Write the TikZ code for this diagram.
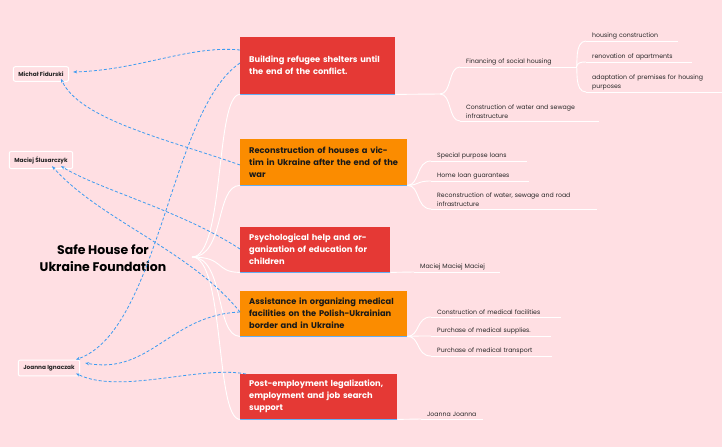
\documentclass[tikz,border=0pt]{standalone}
\usepackage{fontspec}
\setmainfont{Poppins}
\usetikzlibrary{arrows.meta}
\definecolor{bg}{HTML}{FFDFE3}
\definecolor{tred}{HTML}{E53935}
\definecolor{torange}{HTML}{FB8C00}
\definecolor{rel}{HTML}{3D9BF0}
\begin{document}
\begin{tikzpicture}[x=1pt,y=-1pt,
  topic/.style={anchor=north west,inner xsep=9pt,inner ysep=0pt,align=left,font=\fontsize{8.3}{12}\selectfont\bfseries},
  sub/.style={anchor=south west,inner xsep=0pt,inner ysep=2pt,align=left,font=\fontsize{6.2}{9}\selectfont,text=black!85},
  person/.style={draw=white,line width=1pt,rounded corners=2pt,fill=bg,font=\fontsize{5.8}{7}\selectfont\bfseries,text=black!85,inner sep=5pt},
  br/.style={draw=white,line width=0.9pt},
  rl/.style={draw=rel,line width=0.8pt,dash pattern=on 3pt off 2pt,-{Stealth[length=4pt,width=3pt]}}]
\fill[bg] (0,0) rectangle (722,447);
\useasboundingbox (0,0) rectangle (722,447);
% root
\node[font=\fontsize{12.5}{17}\selectfont\bfseries,align=center] (root) at (103,258) {Safe House for\\Ukraine Foundation};
\coordinate (rc) at (192,257);
% topics
\node[topic,fill=tred,text=white,minimum width=155pt,minimum height=57pt,text width=137pt] (t1) at (240,37) {Building refugee shelters until the end of the conflict.};
\node[topic,fill=torange,text=black!90,minimum width=167pt,minimum height=46pt,text width=149pt] (t2) at (240,139) {Reconstruction of houses a victim in Ukraine after the end of the war};
\node[topic,fill=tred,text=white,minimum width=150pt,minimum height=45pt,text width=132pt] (t3) at (240,227) {Psychological help and organization of education for children};
\node[topic,fill=torange,text=black!90,minimum width=167pt,minimum height=45pt,text width=149pt] (t4) at (240,291) {Assistance in organizing medical facilities on the Polish-Ukrainian border and in Ukraine};
\node[topic,fill=tred,text=white,minimum width=157pt,minimum height=45pt,text width=139pt] (t5) at (240,374) {Post-employment legalization, employment and job search support};
\foreach \t in {t1,t2,t3,t4,t5}{\draw[rel!80,line width=1pt] (\t.south west) -- (\t.south east);}
% root branches
\foreach \t in {t1,t2,t3,t4,t5}{\draw[br] (rc) .. controls (225,257) and (215,0|-\t.south west) .. (\t.south west);}
% subtopics
\node[sub,text width=110pt] (s1) at (466,67) {Financing of social housing};
\node[sub,text width=133pt] (s2) at (466,121) {Construction of water and sewage\\infrastructure};
\node[sub,text width=86pt] (s11) at (592,41) {housing construction};
\node[sub,text width=100pt] (s12) at (592,62) {renovation of apartments};
\node[sub,text width=134pt] (s13) at (592,92) {adaptation of premises for housing\\purposes};
\node[sub,text width=90pt] (s21) at (437,161) {Special purpose loans};
\node[sub,text width=92pt] (s22) at (437,181) {Home loan guarantees};
\node[sub,text width=160pt] (s23) at (437,209) {Reconstruction of water, sewage and road\\infrastructure};
\node[sub,text width=80pt] (s31) at (420,272) {Maciej Maciej Maciej};
\node[sub,text width=124pt] (s41) at (437,317) {Construction of medical facilities};
\node[sub,text width=114pt] (s42) at (437,336) {Purchase of medical supplies.};
\node[sub,text width=115pt] (s43) at (437,356) {Purchase of medical transport};
\node[sub,text width=56pt] (s51) at (427,419) {Joanna Joanna};
\foreach \s in {s1,s2,s11,s12,s13,s21,s22,s23,s31,s41,s42,s43,s51}{\draw[br] ([xshift=-6pt]\s.south west) -- (\s.south east);}
% connections
\draw[br] (t1.south east) -- (440,94);
\foreach \s in {s1,s2}{\draw[br] (440,94) .. controls (452,94) and (448,0|-\s.south west) .. ([xshift=-6pt]\s.south west);}
\foreach \s in {s11,s12,s13}{\draw[br] (s1.south east) .. controls (578,67) and (574,0|-\s.south west) .. ([xshift=-6pt]\s.south west);}
\foreach \s in {s21,s22,s23}{\draw[br] (t2.south east) .. controls (420,185) and (416,0|-\s.south west) .. ([xshift=-6pt]\s.south west);}
\draw[br] (t3.south east) -- ([xshift=-6pt]s31.south west);
\foreach \s in {s41,s42,s43}{\draw[br] (t4.south east) .. controls (420,336) and (416,0|-\s.south west) .. ([xshift=-6pt]\s.south west);}
\draw[br] (t5.south east) -- ([xshift=-6pt]s51.south west);
% persons
\node[person] (p1) at (41,74) {Michał Fidurski};
\node[person] (p2) at (41,160) {Maciej Ślusarczyk};
\node[person] (p3) at (49,368) {Joanna Ignaczak};
% relationships
\draw[rl] ([yshift=-13pt]t1.north west) .. controls (190,45) and (140,70) .. ([xshift=4pt,yshift=2pt]p1.east);
\draw[rl] ([yshift=-26pt]t1.north west) .. controls (170,110) and (160,330) .. ([xshift=27pt]p3.north);
\draw[rl] ([yshift=-26pt]t2.north west) .. controls (170,140) and (80,120) .. ([xshift=20pt,yshift=3pt]p1.south);
\draw[rl] ([yshift=-22pt]t3.north west) .. controls (180,210) and (100,190) .. ([xshift=20pt,yshift=3pt]p2.south);
\draw[rl] ([yshift=-21pt]t4.north west) .. controls (190,250) and (100,220) .. ([xshift=11pt,yshift=3pt]p2.south);
\draw[rl] ([yshift=-21pt]t4.north west) .. controls (170,315) and (150,375) .. ([xshift=5pt,yshift=5pt]p3.east);
\draw[rl] ([xshift=6pt]t5.north west) .. controls (200,365) and (120,395) .. ([xshift=27pt,yshift=3pt]p3.south);
\end{tikzpicture}
\end{document}
